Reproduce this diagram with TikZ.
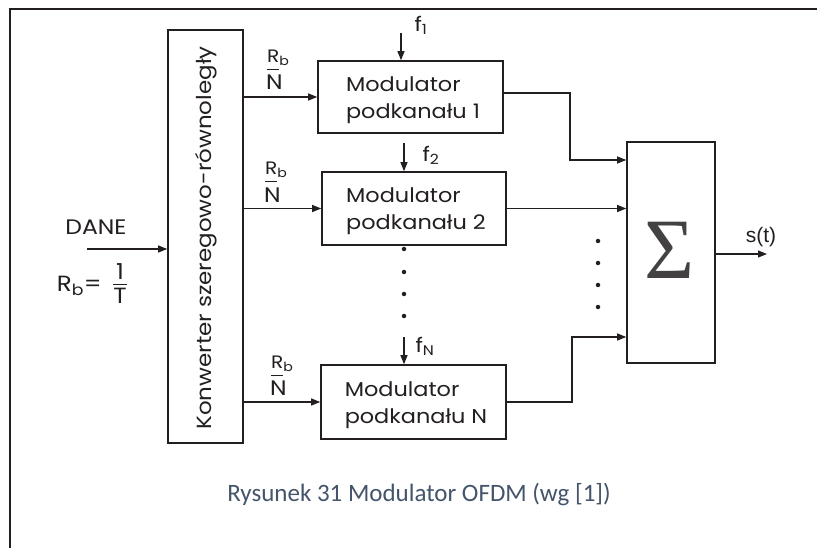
\documentclass[tikz,border=0pt]{standalone}
\usepackage{fontspec}
\setmainfont[FakeStretch=1.12]{Poppins}
\newfontfamily\arialf{Liberation Sans}
\newfontfamily\capf{Carlito}
\newfontfamily\serf{Liberation Serif}
\usetikzlibrary{arrows.meta}
\definecolor{capcol}{RGB}{68,84,106}
\definecolor{ink}{RGB}{35,31,32}
\begin{document}
\begin{tikzpicture}[x=1pt,y=-1pt,
 blk/.style={draw=ink,line width=1.6pt,inner sep=0pt,align=center},
 arr/.style={draw=ink,line width=1.1pt,-{Triangle[length=9pt,width=7pt]}},
 lbl/.style={inner sep=0pt,text=ink,font=\fontsize{20}{22}\selectfont},
 rlbl/.style={inner sep=0pt,text=ink,anchor=west,font=\fontsize{18}{18}\selectfont},
 nlbl/.style={inner sep=0pt,text=ink,anchor=west,font=\fontsize{21}{21}\selectfont},
 modtxt/.style={font=\fontsize{20}{27}\selectfont,text=ink,align=left},
 dotn/.style={circle,fill=ink,inner sep=0pt,minimum size=4.5pt}]
\useasboundingbox (0,0) rectangle (817,548);
\fill[white] (0,0) rectangle (817,548);
\draw[line width=1.5pt,ink] (10,560) -- (10,9) -- (830,9);

% blocks
\node[blk,minimum width=75pt,minimum height=413pt] (conv) at (205.5,236.5) {};
\node[rotate=90,lbl,font=\fontsize{20.5}{22}\selectfont] (convtxt) at (206,238) {Konwerter szeregowo-równoległy};
\node[blk,minimum width=185pt,minimum height=72pt] (m1) at (410.5,97) {};
\node[modtxt] (m1t) at (413,100) {Modulator\\podkanału 1};
\node[blk,minimum width=184pt,minimum height=73pt] (m2) at (414,208.5) {};
\node[modtxt] (m2t) at (416,211) {Modulator\\podkanału 2};
\node[blk,minimum width=185pt,minimum height=74pt] (mN) at (413.5,402) {};
\node[modtxt] (mNt) at (416,405) {Modulator\\podkanału N};
\node[blk,minimum width=88pt,minimum height=221pt] (sum) at (671,252.5) {};
\node[inner sep=0pt,text=ink!85] (sig) at (670,250) {\serf\fontsize{86}{86}\selectfont Σ};

% input
\node[lbl,font=\fontsize{21}{22}\selectfont] (dane) at (96,227) {DANE};
\coordinate (din) at (87,249);
\draw[arr] (din) -- (conv.west |- din);
\node[lbl,anchor=east,font=\fontsize{22}{22}\selectfont] (rb) at (102,286) {R\textsubscript{b}=};
\node[lbl,font=\fontsize{22}{22}\selectfont] (frac) at (120,287) {\begin{tabular}{@{}c@{}}1\\[-2pt]\hline\rule{0pt}{19pt}T\end{tabular}};

% converter outputs
\draw[arr] (conv.east |- m1.west) -- (m1.west);
\draw[arr] (conv.east |- m2.west) -- (m2.west);
\draw[arr] (conv.east |- mN.west) -- (mN.west);
\node[rlbl] (ra1) at (267,58) {R\textsubscript{b}};
\node[nlbl] (na1) at (266,82) {N};
\draw[ink,line width=1pt] ([yshift=-3pt]ra1.south west) -- ++(12,0);
\node[rlbl] (ra2) at (265,170) {R\textsubscript{b}};
\node[nlbl] (na2) at (264,195) {N};
\draw[ink,line width=1pt] ([yshift=-3pt]ra2.south west) -- ++(12,0);
\node[rlbl] (ra3) at (271,364) {R\textsubscript{b}};
\node[nlbl] (na3) at (270,388) {N};
\draw[ink,line width=1pt] ([yshift=-3pt]ra3.south west) -- ++(12,0);

% carriers
\coordinate (f1) at (401,33);
\draw[arr] (f1) -- (f1 |- m1.north);
\node[lbl] (f1l) at (421,25) {f\textsubscript{1}};
\coordinate (f2) at (404,143);
\draw[arr] (f2) -- (f2 |- m2.north);
\node[lbl] (f2l) at (431,155) {f\textsubscript{2}};
\coordinate (fN) at (404,337);
\draw[arr] (fN) -- (fN |- mN.north);
\node[lbl] (fNl) at (425,346) {f\textsubscript{N}};

% dots
\node[dotn] (d1) at (404,249) {};
\node[dotn] (d2) at (404,272) {};
\node[dotn] (d3) at (404,294) {};
\node[dotn] (d4) at (404,316) {};
\node[dotn] (e1) at (598,241) {};
\node[dotn] (e2) at (598,263) {};
\node[dotn] (e3) at (598,285) {};
\node[dotn] (e4) at (598,307) {};

% modulator outputs
\coordinate (o1) at ([yshift=4pt]m1.east);
\coordinate (k1) at (570,93);
\coordinate (k1b) at (570,160);
\draw[arr] (o1) -- (k1) -- (k1b) -- (sum.west |- k1b);
\draw[arr] (m2.east) -- (sum.west |- m2.east);
\coordinate (kN) at (572,402);
\coordinate (kNb) at (572,337);
\draw[arr] (mN.east) -- (kN) -- (kNb) -- (sum.west |- kNb);

% output
\coordinate (sout) at (767,254);
\draw[arr] (sum.east |- sout) -- (sout);
\node[inner sep=0pt,text=ink] (st) at (761,237) {\arialf\fontsize{21}{22}\selectfont s(t)};

% caption
\node[inner sep=0pt,text=capcol] (cap) at (419,495) {\capf\fontsize{25}{28}\selectfont Rysunek 31 Modulator OFDM (wg [1])};
\end{tikzpicture}
\end{document}
